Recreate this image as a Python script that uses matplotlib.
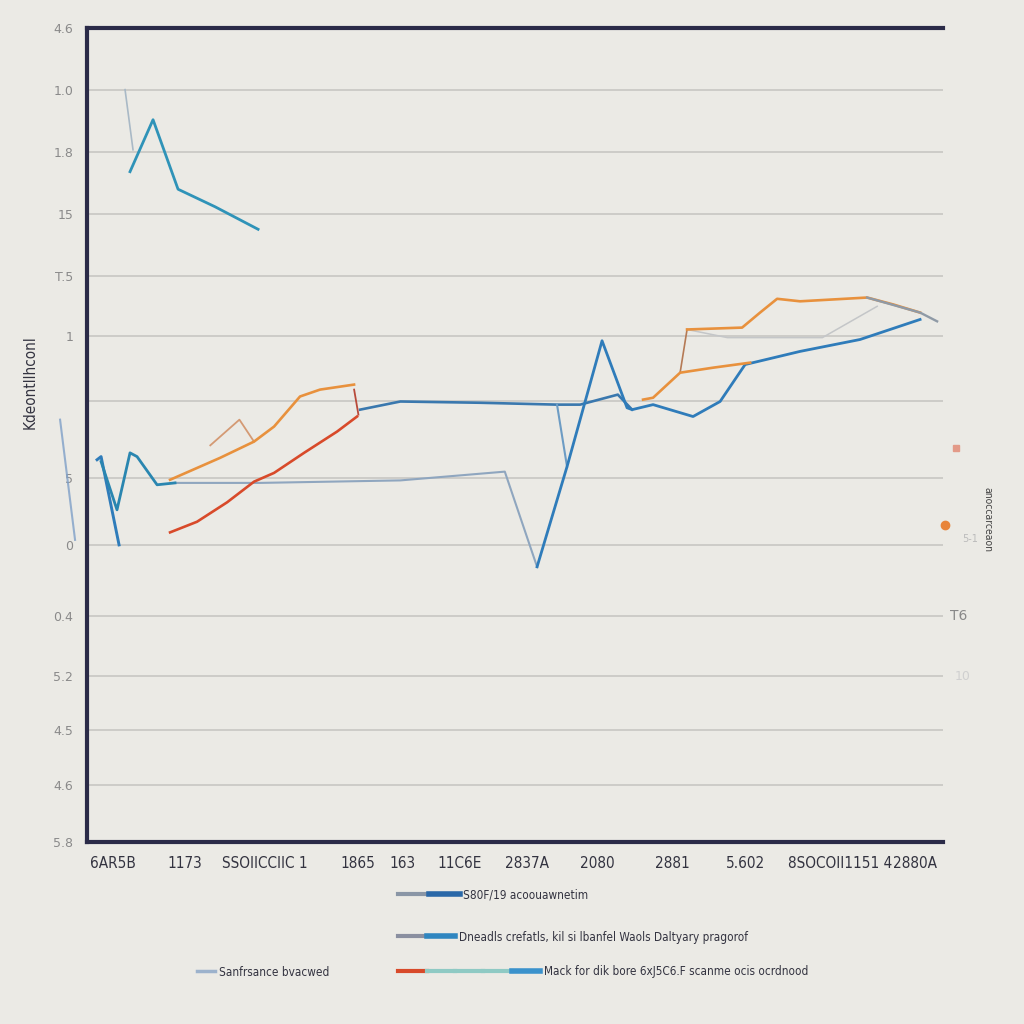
import numpy as np
import matplotlib
matplotlib.use("Agg")
import matplotlib.pyplot as plt
from matplotlib.lines import Line2D
from matplotlib.legend_handler import HandlerTuple
from matplotlib import font_manager

# ---------------- data ----------------
x_ticks = [3.04, 11.45, 20.79, 31.66, 36.80, 43.57, 51.40, 59.58, 68.34, 76.87, 87.97, 96.73]
x_labels = ["6AR5B", "1173", "SSOIICCIIC 1", "1865", "163", "11C6E", "2837A",
            "2080", "2881", "5.602", "8SOCOII1151 4", "2880A"]
y_ticks = [0, 0.91, 1.79, 2.65, 3.61, 4.74, 5.81, 7.03, 8.07, 9.03, 10.03, 11.02, 12.01, 13.0]
y_labels = ["5.8", "4.6", "4.5", "5.2", "0.4", "0", "5", "", "1", "T.5", "15", "1.8", "1.0", "4.6"]

# top-left teal spike
spike_x = [5.02, 7.71, 10.63, 14.95, 19.98]
spike_y = [10.70, 11.53, 10.42, 10.14, 9.78]
spike_thin_x = [4.44, 5.37]
spike_thin_y = [12.01, 11.05]

# left blue drop and loop
drop_x = [1.17, 1.64, 3.74]
drop_y = [6.10, 6.15, 4.74]
loop_x = [1.64, 3.50, 5.02, 5.84, 8.18, 10.28]
loop_y = [6.07, 5.30, 6.21, 6.15, 5.70, 5.73]

# grey-blue flat line
flat_x = [10.28, 20.2, 36.6, 48.8, 52.57]
flat_y = [5.73, 5.73, 5.77, 5.91, 4.39]

# main blue V and rise
main_x = [52.57, 56.07, 60.16, 63.08, 63.67, 66.12, 70.79, 73.95, 76.87, 83.29, 90.30, 97.31]
main_y = [4.39, 5.99, 8.00, 6.93, 6.90, 6.98, 6.79, 7.03, 7.62, 7.83, 8.02, 8.34]

# blue mid plateau
mid_x = [31.9, 36.6, 45.9, 54.9, 57.6, 62.0, 63.67]
mid_y = [6.90, 7.03, 7.01, 6.98, 6.98, 7.14, 6.90]
mid_drop_x = [54.9, 56.07]
mid_drop_y = [6.98, 5.99]

# orange left
orange_l_x = [9.70, 15.54, 19.51, 21.85, 24.88, 27.22, 31.19]
orange_l_y = [5.78, 6.13, 6.39, 6.63, 7.11, 7.22, 7.30]
bump_x = [14.4, 17.8, 19.5]
bump_y = [6.33, 6.74, 6.39]

# orange right (lower and upper)
orange_r_x = [64.95, 66.12, 69.28, 73.13, 77.45]
orange_r_y = [7.06, 7.09, 7.49, 7.57, 7.65]
orange_u_x = [70.09, 76.52, 78.62, 80.61, 83.29, 91.12, 94.16, 97.31]
orange_u_y = [8.18, 8.21, 8.45, 8.67, 8.63, 8.69, 8.58, 8.45]
conn_x = [69.28, 70.09]
conn_y = [7.49, 8.18]
grey_r_x = [91.12, 97.31, 99.3]
grey_r_y = [8.69, 8.45, 8.31]
grey_faint_x = [70.09, 74.8, 85.9, 92.3]
grey_faint_y = [8.18, 8.05, 8.05, 8.55]

# red line
red_x = [9.70, 12.85, 16.36, 19.51, 21.85, 25.35, 29.21, 31.54]
red_y = [4.94, 5.11, 5.42, 5.75, 5.89, 6.21, 6.55, 6.79]
red_tick_x = [31.2, 31.7]
red_tick_y = [7.22, 6.82]

# faint outside-left stroke
out_x = [-3.15, -1.40]
out_y = [6.74, 4.82]

y_title = "Kdeontllhconl"
right_title = "anoccarceaon"
legend_labels = ["S80F/19 acoouawnetim",
                 "Dneadls crefatls, kil si lbanfel Waols Daltyary pragorof",
                 "Sanfrsance bvacwed",
                 "Mack for dik bore 6xJ5C6.F scanme ocis ocrdnood"]

# ---------------- style ----------------
names = {f.name for f in font_manager.fontManager.ttflist}
NARROW = "Liberation Sans Narrow" if "Liberation Sans Narrow" in names else "DejaVu Sans"
has_cond = any(f.name == "DejaVu Sans" and f.stretch == "condensed"
               for f in font_manager.fontManager.ttflist)
STRETCH = "condensed" if has_cond else "normal"

BG = "#ebeae5"
NAVY = "#2b2b48"
BLUE = "#2f7cba"
TEAL = "#2f93b8"
ORANGE = "#e8913d"
RED = "#d84a2a"
GREYBLUE = "#8fa6bf"

fig = plt.figure(figsize=(10.24, 10.24), dpi=100, facecolor=BG)
ax = fig.add_axes([0.085, 0.178, 0.836, 0.795], facecolor=BG)
ax.set_xlim(0, 100)
ax.set_ylim(0, 13)

for yt in y_ticks[1:-1]:
    ax.axhline(yt, color="#c4c4c0", lw=1.1, zorder=1)

ax.plot(out_x, out_y, color="#7fa0c8", lw=1.5, alpha=0.8, clip_on=False)
ax.plot(spike_thin_x, spike_thin_y, color="#a9b9c6", lw=1.2)
ax.plot(spike_x, spike_y, color=TEAL, lw=2.0)
ax.plot(flat_x, flat_y, color=GREYBLUE, lw=1.5)
ax.plot(mid_x, mid_y, color="#3a78ae", lw=1.9)
ax.plot(mid_drop_x, mid_drop_y, color="#6d9cc4", lw=1.5)
ax.plot(drop_x, drop_y, color=BLUE, lw=2.1)
ax.plot(loop_x, loop_y, color="#2a86b0", lw=2.0)
ax.plot(main_x, main_y, color=BLUE, lw=2.0)
ax.plot(bump_x, bump_y, color="#d49a74", lw=1.3)
ax.plot(orange_l_x, orange_l_y, color=ORANGE, lw=1.9)
ax.plot(grey_faint_x, grey_faint_y, color="#c4c6c8", lw=1.1)
ax.plot(conn_x, conn_y, color="#b57a55", lw=1.2)
ax.plot(orange_r_x, orange_r_y, color=ORANGE, lw=1.9)
ax.plot(orange_u_x, orange_u_y, color=ORANGE, lw=1.9)
ax.plot(grey_r_x, grey_r_y, color="#8f9aa6", lw=1.7)
ax.plot(red_x, red_y, color=RED, lw=1.9)
ax.plot(red_tick_x, red_tick_y, color="#b84a3a", lw=1.3)

# spines
for s in ["left", "top", "bottom"]:
    ax.spines[s].set_color(NAVY)
    ax.spines[s].set_linewidth(3)
ax.spines["right"].set_visible(False)

ax.set_xticks(x_ticks)
ax.set_xticklabels(x_labels, fontsize=11, color="#333340", family=NARROW,
                   fontstretch=STRETCH)
ax.set_yticks(y_ticks)
ax.set_yticklabels(y_labels, fontsize=9, color="#8a8a8a")
ax.tick_params(axis="both", length=0)
ax.tick_params(axis="x", pad=10)
ax.tick_params(axis="y", pad=10)
fig.text(30 / 1024, 1 - 382 / 1024, y_title, rotation=90, fontsize=11,
         color="#333340", family=NARROW, fontstretch=STRETCH, ha="center", va="center")

# right side decorations
fig.text(0.964, 0.493, right_title, rotation=270, fontsize=7.5, color="#444",
         ha="center", va="center", family=NARROW, fontstretch=STRETCH)
ax.plot([101.5], [6.28], marker="s", ms=5, color="#e39a88", clip_on=False)
ax.plot([100.2], [5.06], marker="o", ms=6, color="#e8843a", clip_on=False)
fig.text(0.940, 0.474, "5-1", fontsize=7, color="#bbbbbb", va="center")
fig.text(0.928, 0.398, "T6", fontsize=10, color="#888888", va="center")
fig.text(0.932, 0.339, "10", fontsize=9, color="#d0d0d0", va="center")

# legends
def leg(handles, label, x, y, hl):
    lg = fig.legend([handles], [label], loc="center left", bbox_to_anchor=(x, y),
                    frameon=False, handlelength=hl, handletextpad=0.3,
                    borderpad=0, borderaxespad=0,
                    handler_map={tuple: HandlerTuple(ndivide=None, pad=0)},
                    prop={"family": NARROW, "size": 8.5, "stretch": STRETCH})
    for t in lg.get_texts():
        t.set_color("#333340")
    return lg

h1 = (Line2D([], [], color="#8a96a6", lw=3), Line2D([], [], color="#2a68a8", lw=4))
h2 = (Line2D([], [], color="#8a8fa0", lw=3), Line2D([], [], color="#2f86c0", lw=4))
h3 = Line2D([], [], color="#9cb2cc", lw=2.5)
h4 = (Line2D([], [], color=RED, lw=3), Line2D([], [], color="#8fcac4", lw=3),
      Line2D([], [], color="#8fcac4", lw=3), Line2D([], [], color="#8fcac4", lw=3),
      Line2D([], [], color="#3a92cc", lw=4))
leg(h1, legend_labels[0], 0.389, 1 - 895 / 1024, 5.2)
leg(h2, legend_labels[1], 0.389, 1 - 937 / 1024, 4.8)
leg(h3, legend_labels[2], 0.192, 1 - 972 / 1024, 1.6)
leg(h4, legend_labels[3], 0.389, 1 - 972 / 1024, 12.0)

fig.savefig("out.png", dpi=100, facecolor=BG)
